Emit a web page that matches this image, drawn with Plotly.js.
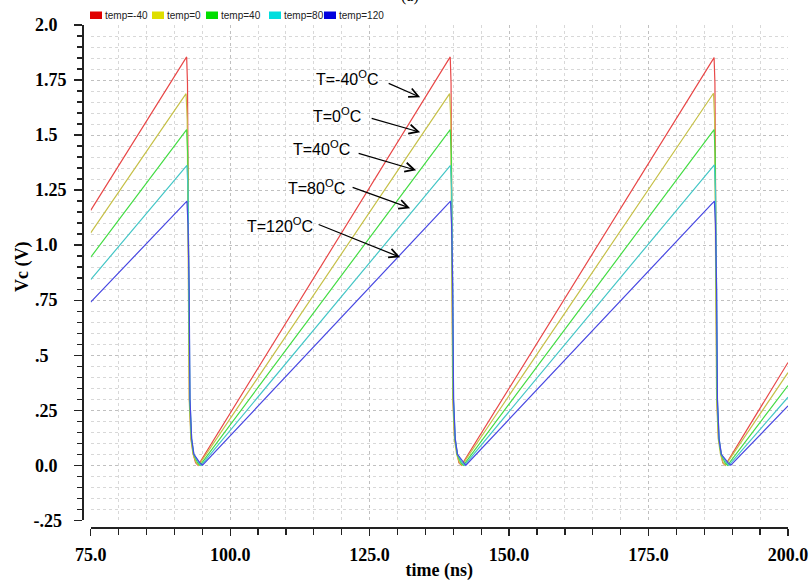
<!DOCTYPE html>
<html><head><meta charset="utf-8">
<script src="https://cdn.plot.ly/plotly-3.0.1.min.js"></script>
<style>html,body{margin:0;padding:0;background:#fff}#chart{width:811px;height:581px}</style>
</head><body><div id="chart"></div>
<script>
// ---- data ----
const seriesNames = ['temp=-40', 'temp=0', 'temp=40', 'temp=80', 'temp=120'];

const timeM40 = [75.0,
  92.2, 92.35, 92.55, 92.7, 93.0, 93.4, 93.8, 94.25,
  139.45, 139.6, 139.8, 139.95, 140.25, 140.65, 141.0, 141.45,
  186.75, 186.9, 187.1, 187.25, 187.55, 187.95, 188.3, 188.75,
  200.0];
const vcM40 = [1.158,
  1.855, 1.735, 0.8, 0.3, 0.12, 0.05, 0.012, 0.0,
  1.855, 1.735, 0.8, 0.3, 0.12, 0.05, 0.012, 0.0,
  1.852, 1.735, 0.8, 0.3, 0.12, 0.05, 0.012, 0.0,
  0.467];

const time0 = [75.0,
  92.1, 92.3, 92.5, 92.65, 92.95, 93.35, 93.9, 94.35,
  139.35, 139.55, 139.75, 139.9, 140.2, 140.6, 141.1, 141.55,
  186.65, 186.85, 187.05, 187.2, 187.5, 187.9, 188.35, 188.8,
  200.0];
const vc0 = [1.056,
  1.688, 1.57, 0.8, 0.3, 0.12, 0.05, 0.012, 0.0,
  1.688, 1.57, 0.8, 0.3, 0.12, 0.05, 0.012, 0.0,
  1.69, 1.57, 0.8, 0.3, 0.12, 0.05, 0.012, 0.0,
  0.421];

const time40 = [75.0,
  92.2, 92.4, 92.6, 92.75, 93.05, 93.45, 94.15, 94.6,
  139.45, 139.65, 139.85, 140.0, 140.3, 140.7, 141.35, 141.8,
  186.75, 186.95, 187.15, 187.3, 187.6, 188.0, 188.7, 189.15,
  200.0];
const vc40 = [0.945,
  1.525, 1.41, 0.8, 0.3, 0.12, 0.05, 0.012, 0.0,
  1.525, 1.41, 0.8, 0.3, 0.12, 0.05, 0.012, 0.0,
  1.525, 1.41, 0.8, 0.3, 0.12, 0.05, 0.012, 0.0,
  0.362];

const time80 = [75.0,
  92.25, 92.45, 92.65, 92.8, 93.1, 93.5, 94.35, 94.8,
  139.5, 139.7, 139.9, 140.05, 140.35, 140.75, 141.55, 142.0,
  186.8, 187.0, 187.2, 187.35, 187.65, 188.05, 188.95, 189.4,
  200.0];
const vc80 = [0.843,
  1.362, 1.25, 0.8, 0.3, 0.12, 0.05, 0.012, 0.0,
  1.362, 1.25, 0.8, 0.3, 0.12, 0.05, 0.012, 0.0,
  1.365, 1.25, 0.8, 0.3, 0.12, 0.05, 0.012, 0.0,
  0.309];

const time120 = [75.0,
  92.25, 92.45, 92.65, 92.8, 93.1, 93.5, 94.55, 95.05,
  139.5, 139.7, 139.9, 140.05, 140.35, 140.75, 141.8, 142.25,
  186.8, 187.0, 187.2, 187.35, 187.65, 188.05, 189.25, 189.75,
  200.0];
const vc120 = [0.741,
  1.20, 1.09, 0.8, 0.3, 0.12, 0.05, 0.012, 0.0,
  1.20, 1.09, 0.8, 0.3, 0.12, 0.05, 0.012, 0.0,
  1.20, 1.09, 0.8, 0.3, 0.12, 0.05, 0.012, 0.0,
  0.27];

const xTickVals = [75, 100, 125, 150, 175, 200];
const xTickText = ['75.0', '100.0', '125.0', '150.0', '175.0', '200.0'];
const yTickVals = [-0.25, 0, 0.25, 0.5, 0.75, 1.0, 1.25, 1.5, 1.75, 2.0];
const yTickText = ['-.25', '0.0', '.25', '.5', '.75', '1.0', '1.25', '1.5', '1.75', '2.0'];

const calloutText = ['T=-40<sup>O</sup>C', 'T=0<sup>O</sup>C', 'T=40<sup>O</sup>C', 'T=80<sup>O</sup>C', 'T=120<sup>O</sup>C'];
const xTitle = 'time (ns)';
const yTitle = 'Vc (V)';
const topTitle = '(a)';

// ---- styling / layout (not data) ----
const lineColors = ['#e84848', '#c6c048', '#44dc44', '#44c6c6', '#4848e2'];
const legendColors = ['#e00000', '#dede00', '#00de00', '#00dede', '#0000de'];
const legendPx = [90, 152, 206, 269, 324];           // legend swatch left edges (px)
const calloutPos = [[121.1, 1.758], [119.2, 1.590], [116.4, 1.440], [115.4, 1.263], [109.0, 1.090]];
const arrowHead = [[134.06, 1.672], [134.06, 1.513], [133.34, 1.340], [132.26, 1.168], [130.47, 0.945]];
const arrowOff = [[-32, -14], [-49, -14], [-58, -17], [-58, -21], [-82, -33]];

const W = 811, H = 581, ML = 82, MR = 23, MT = 25, MB = 54;
const PW = W - ML - MR, PH = H - MT - MB;
const px2x = p => (p - ML) / PW;
const py2y = p => (H - MB - p) / PH;

const times = [timeM40, time0, time40, time80, time120];
const vals = [vcM40, vc0, vc40, vc80, vc120];

const traces = seriesNames.map((n, i) => ({
  type: 'scatter', mode: 'lines', name: n,
  x: times[i], y: vals[i],
  line: {color: lineColors[i], width: 1.2},
  showlegend: false, hoverinfo: 'skip'
}));

// pad y labels with nbsp so they look left-aligned (Times em widths)
const emW = ch => (ch === '.' ? 0.25 : ch === '-' ? 0.333 : 0.5);
const yTickPadded = yTickText.map(t => {
  const w = [...t].reduce((s, c) => s + emW(c), 0);
  const n = Math.max(0, Math.round((1.75 - w) / 0.25));
  return t + '\u00A0'.repeat(n);
});

const tickFont = {family: 'Liberation Serif', size: 18, color: '#000', weight: 'bold'};
const titleFont = {family: 'Liberation Serif', size: 18, color: '#000', weight: 'bold'};

const annotations = [];
const shapes = [];
calloutText.forEach((t, i) => {
  annotations.push({
    xref: 'x', yref: 'y', x: calloutPos[i][0], y: calloutPos[i][1],
    text: t, showarrow: false, xanchor: 'center', yanchor: 'middle',
    font: {family: 'Liberation Sans', size: 16, color: '#000'}
  });
  annotations.push({
    xref: 'x', yref: 'y', x: arrowHead[i][0], y: arrowHead[i][1],
    text: ' ', showarrow: true, ax: arrowOff[i][0], ay: arrowOff[i][1],
    arrowhead: 5, arrowsize: 1.5, arrowwidth: 1.2, arrowcolor: '#000',
    font: {size: 1}, borderpad: 0, startstandoff: 0
  });
});
seriesNames.forEach((n, i) => {
  shapes.push({
    type: 'rect', xref: 'paper', yref: 'paper',
    x0: px2x(legendPx[i]), x1: px2x(legendPx[i] + 12),
    y0: py2y(19), y1: py2y(11.5),
    fillcolor: legendColors[i], line: {width: 0}
  });
  annotations.push({
    xref: 'paper', yref: 'paper', x: px2x(legendPx[i] + 14), y: py2y(15.5),
    xanchor: 'left', yanchor: 'middle', text: n, showarrow: false,
    font: {family: 'Liberation Sans', size: 10, color: '#222'}, borderpad: 0
  });
});
annotations.push({
  xref: 'paper', yref: 'paper', x: px2x(410), y: py2y(7), xanchor: 'center', yanchor: 'bottom',
  text: topTitle, showarrow: false, font: {family: 'Liberation Serif', size: 16, color: '#000'}
});
annotations.push({
  xref: 'paper', yref: 'paper', x: px2x(22), y: py2y(267), xanchor: 'center', yanchor: 'middle',
  text: yTitle, textangle: -90, showarrow: false, font: titleFont
});

const layout = {
  width: W, height: H,
  margin: {l: ML, r: MR, t: MT, b: MB, pad: 0},
  paper_bgcolor: '#fff', plot_bgcolor: '#fff',
  showlegend: false,
  xaxis: {
    domain: [px2x(90.7), 1], anchor: 'free', position: 0,
    range: [75, 200], tickmode: 'array', tickvals: xTickVals, ticktext: xTickText,
    ticks: 'outside', ticklen: 7, tickwidth: 1.3, tickcolor: '#222',
    showline: true, linecolor: '#222', linewidth: 1.5,
    showgrid: true, gridcolor: '#c0c0c0', gridwidth: 1, griddash: 'dot',
    zeroline: false, tickfont: tickFont, ticklabelstandoff: 4,
    minor: {tick0: 75, dtick: 5, ticks: 'outside', ticklen: 6, tickwidth: 1.3, tickcolor: '#222',
            showgrid: true, gridcolor: '#d8d8d8', gridwidth: 1, griddash: 'dot'},
    title: {text: xTitle, font: titleFont, standoff: 3}
  },
  yaxis: {
    domain: [py2y(520.3), 1], anchor: 'free', position: 0,
    range: [-0.25, 2.0], tickmode: 'array', tickvals: yTickVals, ticktext: yTickPadded,
    ticks: 'outside', ticklen: 8, tickwidth: 1.3, tickcolor: '#222',
    showline: true, linecolor: '#222', linewidth: 1.5,
    showgrid: true, gridcolor: '#c0c0c0', gridwidth: 1, griddash: 'dot',
    zeroline: false, tickfont: tickFont, ticklabelstandoff: 4,
    minor: {tick0: 0, dtick: 0.05, ticks: 'outside', ticklen: 5, tickwidth: 1.3, tickcolor: '#222',
            showgrid: true, gridcolor: '#d8d8d8', gridwidth: 1, griddash: 'dot'}
  },
  annotations: annotations,
  shapes: shapes
};

Plotly.newPlot('chart', traces, layout, {displayModeBar: false, staticPlot: true});
</script>
</body></html>
